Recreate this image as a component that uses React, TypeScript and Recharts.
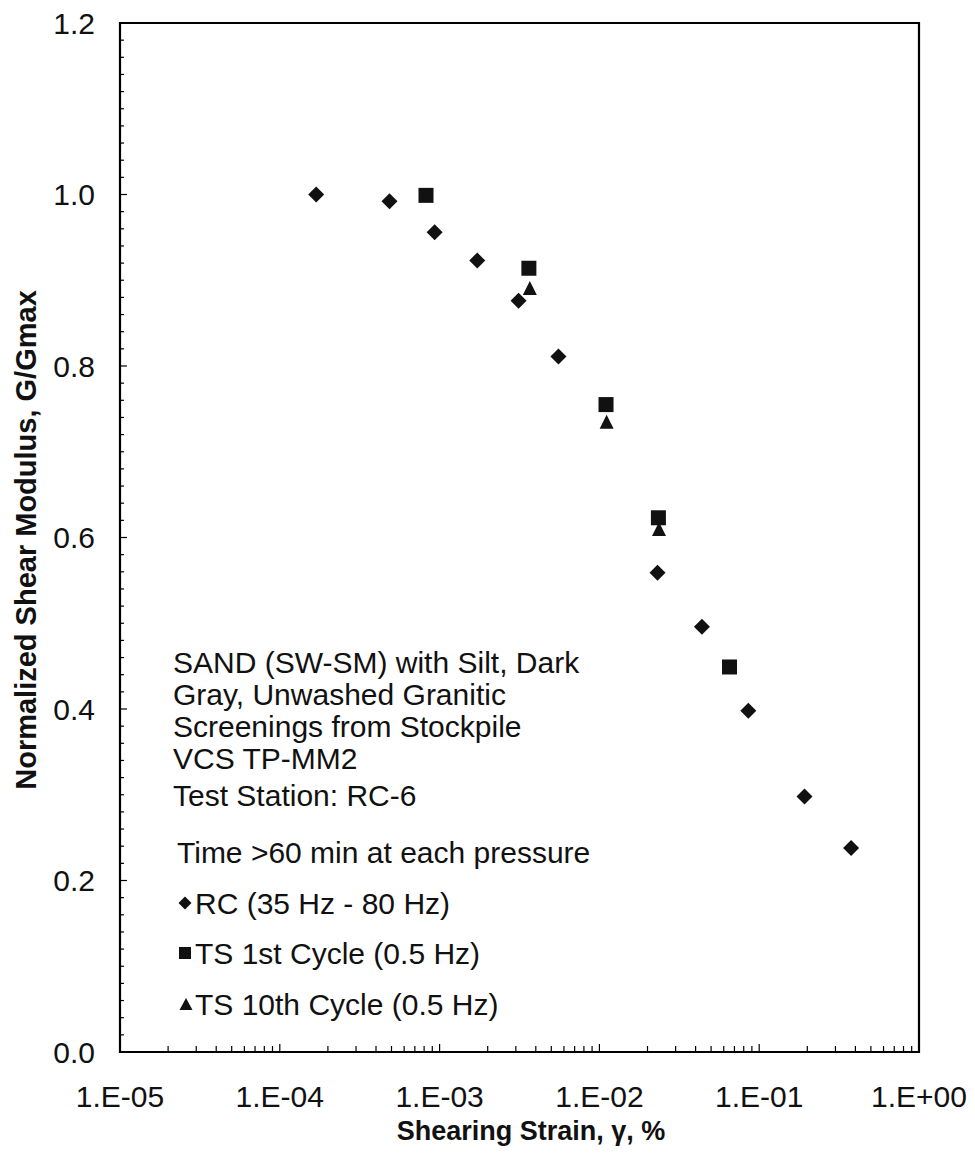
import React from 'react';
import { ScatterChart, Scatter, XAxis, YAxis, ReferenceArea } from 'recharts';

// ---- data (shearing strain in %, normalized shear modulus G/Gmax) ----
const rcStrain = [1.69e-4, 4.86e-4, 9.31e-4, 1.72e-3, 3.12e-3, 5.54e-3, 2.31e-2, 4.38e-2, 8.55e-2, 0.192, 0.376];
const rcModulus = [1.0, 0.992, 0.956, 0.923, 0.876, 0.811, 0.559, 0.496, 0.398, 0.298, 0.238];
const ts1Strain = [8.22e-4, 3.62e-3, 1.1e-2, 2.34e-2, 6.52e-2];
const ts1Modulus = [0.999, 0.914, 0.755, 0.623, 0.449];
const ts10Strain = [3.67e-3, 1.11e-2, 2.36e-2];
const ts10Modulus = [0.891, 0.735, 0.61];

// ---- ticks ----
const xMajorTicks = [1e-5, 1e-4, 1e-3, 1e-2, 1e-1, 1];
const xTickLabels = ['1.E-05', '1.E-04', '1.E-03', '1.E-02', '1.E-01', '1.E+00'];
const yMajorTicks = [0, 0.2, 0.4, 0.6, 0.8, 1.0, 1.2];
const yTickLabels = ['0.0', '0.2', '0.4', '0.6', '0.8', '1.0', '1.2'];
const minorMultipliers = [2, 3, 4, 5, 6, 7, 8, 9];
const yMinorStep = 0.02;

const annotationLines = [
  'SAND (SW-SM) with Silt, Dark',
  'Gray, Unwashed Granitic',
  'Screenings from Stockpile',
  'VCS TP-MM2',
  'Test Station: RC-6',
];
const timeNote = 'Time >60 min at each pressure';
const legendLabels = ['RC (35 Hz - 80 Hz)', 'TS 1st Cycle (0.5 Hz)', 'TS 10th Cycle (0.5 Hz)'];

const xAllTicks: number[] = [];
xMajorTicks.forEach((d, i) => {
  xAllTicks.push(d);
  if (i < xMajorTicks.length - 1) minorMultipliers.forEach((m) => xAllTicks.push(m * d));
});
const yAllTicks: number[] = [];
for (let i = 0; i <= Math.round(1.2 / yMinorStep); i++) yAllTicks.push(Math.round(i * yMinorStep * 100) / 100);

const toPoints = (xs: number[], ys: number[]) => xs.map((x, i) => ({ x, y: ys[i] }));
const rcData = toPoints(rcStrain, rcModulus);
const ts1Data = toPoints(ts1Strain, ts1Modulus);
const ts10Data = toPoints(ts10Strain, ts10Modulus);

const FONT = "'Liberation Sans', Arial, Helvetica, sans-serif";
const INK = '#111';

const XTick = (props: any) => {
  const { x, y, payload } = props;
  const v = payload.value;
  const idx = xMajorTicks.findIndex((t) => Math.abs(Math.log10(t) - Math.log10(v)) < 1e-6);
  const major = idx >= 0;
  return (
    <g>
      <line x1={x} x2={x} y1={y} y2={y - (major ? 8 : 6)} stroke="#000" strokeWidth={1.2} />
      {major && (
        <text x={x} y={y + 55} textAnchor="middle" fontSize={30} fontFamily={FONT} fill={INK}>
          {xTickLabels[idx]}
        </text>
      )}
    </g>
  );
};

const YTick = (props: any) => {
  const { x, y, payload } = props;
  const v = payload.value;
  const idx = yMajorTicks.findIndex((t) => Math.abs(t - v) < 1e-6);
  const major = idx >= 0;
  return (
    <g>
      <line x1={x} x2={x + (major ? 7 : 4)} y1={y} y2={y} stroke="#000" strokeWidth={1.2} />
      {major && (
        <text x={x - 25} y={y + 10.7} textAnchor="end" fontSize={30} fontFamily={FONT} fill={INK}>
          {yTickLabels[idx]}
        </text>
      )}
    </g>
  );
};

const diamondPts = (cx: number, cy: number, h: number) =>
  `${cx},${cy - h} ${cx + h},${cy} ${cx},${cy + h} ${cx - h},${cy}`;
const trianglePts = (cx: number, cy: number, w: number, h: number) =>
  `${cx},${cy - h / 2} ${cx + w / 2},${cy + h / 2} ${cx - w / 2},${cy + h / 2}`;

const DiamondShape = (props: any) => <polygon points={diamondPts(props.cx, props.cy, 8)} fill={INK} />;
const SquareShape = (props: any) => (
  <rect x={props.cx - 7.5} y={props.cy - 7.5} width={15} height={15} fill={INK} />
);
const TriangleShape = (props: any) => <polygon points={trianglePts(props.cx, props.cy, 14, 14)} fill={INK} />;

export default function App() {
  const textX = 165;
  const lineBase = [665, 697, 729, 761, 798];
  const legendBase = [906, 956, 1007];
  const markerX = 177;
  return (
    <div style={{ width: 959, height: 1153 }}>
      <ScatterChart width={959} height={1153} margin={{ top: 15, right: 48, bottom: 0, left: 0 }}>
        <XAxis
          type="number"
          dataKey="x"
          scale="log"
          domain={[1e-5, 1]}
          allowDataOverflow
          ticks={xAllTicks}
          interval={0}
          tick={<XTick />}
          tickLine={false}
          tickSize={0}
          tickMargin={0}
          axisLine={false}
          height={109}
        />
        <YAxis
          type="number"
          dataKey="y"
          domain={[0, 1.2]}
          allowDataOverflow
          ticks={yAllTicks}
          interval={0}
          tick={<YTick />}
          tickLine={false}
          tickSize={0}
          tickMargin={0}
          axisLine={false}
          width={112}
        />
        <ReferenceArea x1={1e-5} x2={1} y1={0} y2={1.2} fill="none" fillOpacity={0} stroke="#000" strokeWidth={2.2} />
        <Scatter data={rcData} shape={<DiamondShape />} isAnimationActive={false} />
        <Scatter data={ts1Data} shape={<SquareShape />} isAnimationActive={false} />
        <Scatter data={ts10Data} shape={<TriangleShape />} isAnimationActive={false} />
        <g fontFamily={FONT} fill={INK}>
          <text
            x={28}
            y={532}
            transform="rotate(-90, 28, 532)"
            textAnchor="middle"
            fontSize={29}
            fontWeight="bold"
          >
            Normalized Shear Modulus, G/Gmax
          </text>
          <text x={523} y={1132} textAnchor="middle" fontSize={27} fontWeight="bold">
            Shearing Strain, γ, %
          </text>
          {annotationLines.map((t, i) => (
            <text key={t} x={textX} y={lineBase[i]} fontSize={30}>
              {t}
            </text>
          ))}
          <text x={textX + 4} y={855} fontSize={30}>
            {timeNote}
          </text>
          <polygon points={diamondPts(markerX, legendBase[0] - 11, 6.5)} fill={INK} />
          <rect x={markerX - 6} y={legendBase[1] - 17} width={12} height={12} fill={INK} />
          <polygon points={trianglePts(markerX + 1, legendBase[2] - 11, 13, 12)} fill={INK} />
          {legendLabels.map((t, i) => (
            <text key={t} x={187} y={legendBase[i]} fontSize={30}>
              {t}
            </text>
          ))}
        </g>
      </ScatterChart>
    </div>
  );
}
